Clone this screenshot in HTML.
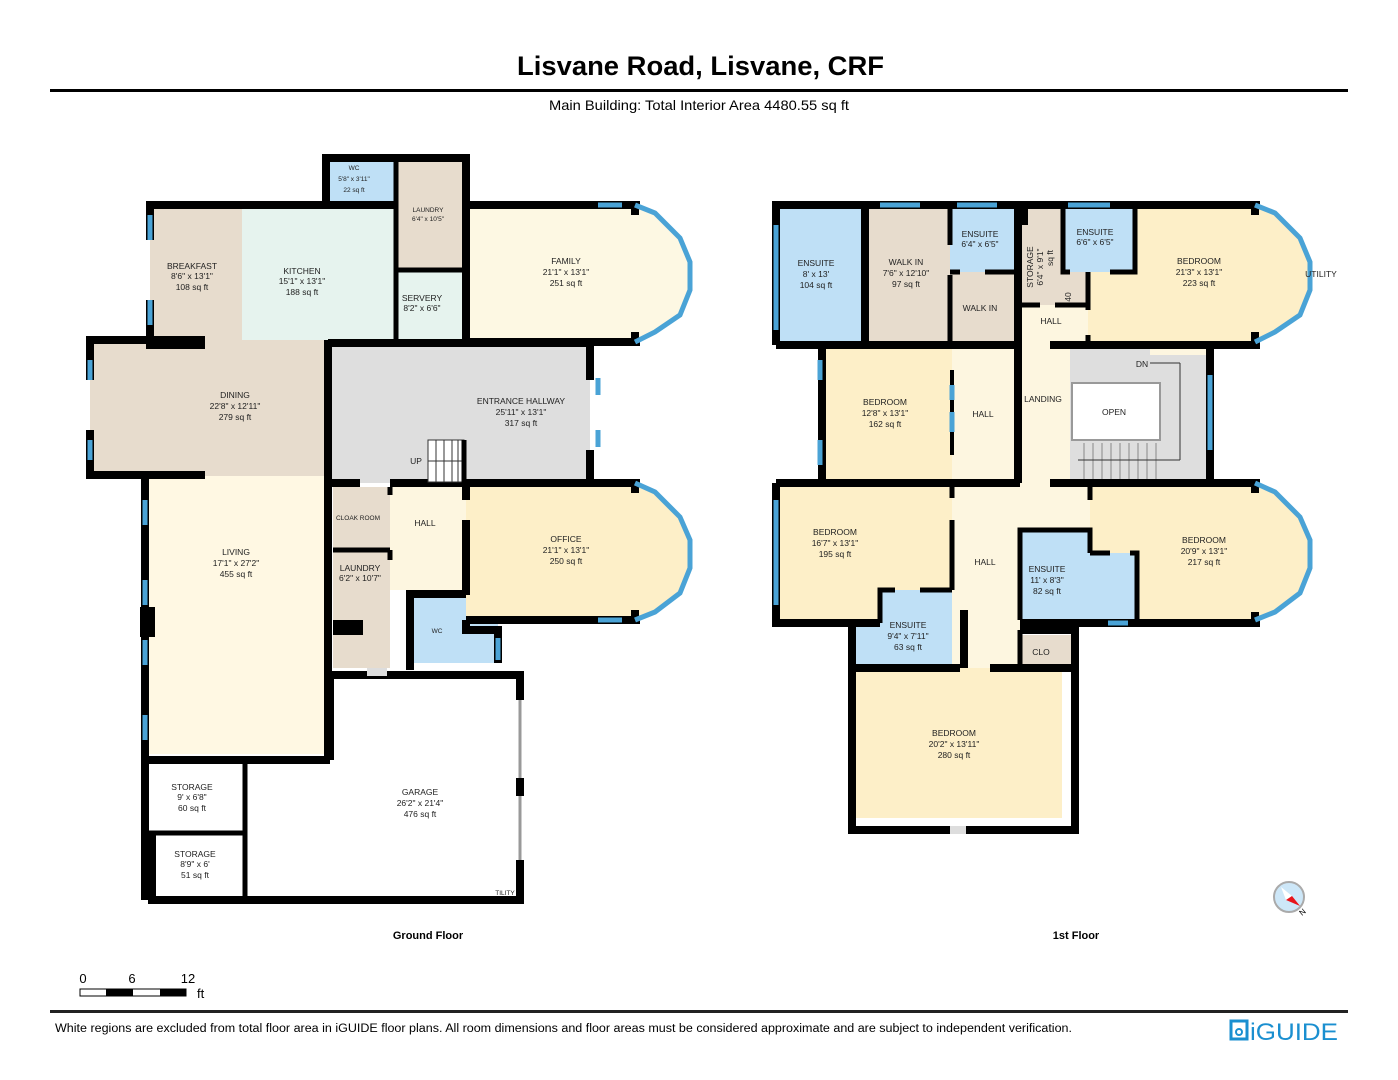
<!DOCTYPE html>
<html><head><meta charset="utf-8"><style>
body{margin:0;background:#fff;width:1398px;height:1080px;overflow:hidden;font-family:"Liberation Sans",sans-serif}
svg{display:block}
.t{font-family:"Liberation Sans",sans-serif;font-size:8.5px;fill:#222;text-anchor:middle}
.s{font-size:6.5px}
.w{fill:none;stroke:#000;stroke-width:8;stroke-linejoin:miter}
.wt{fill:none;stroke:#000;stroke-width:5}
.g{stroke:#4aa3d6;stroke-width:5;fill:none}
</style></head><body>
<svg width="1398" height="1080" viewBox="0 0 1398 1080" xmlns="http://www.w3.org/2000/svg">
<text x="517" y="75" font-size="27" font-weight="bold" font-family="Liberation Sans" textLength="367" lengthAdjust="spacingAndGlyphs">Lisvane Road, Lisvane, CRF</text>
<rect x="50" y="89" width="1298" height="3" fill="#000"/>
<text x="549" y="110" font-size="14" font-family="Liberation Sans" textLength="300" lengthAdjust="spacingAndGlyphs">Main Building: Total Interior Area 4480.55 sq ft</text>

<!-- ===== GROUND FLOOR fills ===== -->
<rect x="326" y="158" width="70" height="47" fill="#bfe0f6"/>
<rect x="396" y="158" width="70" height="112" fill="#e7dccd"/>
<rect x="150" y="205" width="92" height="140" fill="#e7dccd"/>
<rect x="242" y="205" width="154" height="135" fill="#e6f3ee"/>
<rect x="396" y="270" width="70" height="70" fill="#e6f3ee"/>
<polygon points="466,205 635,205 655,213 680,238 690,262 690,290 680,315 655,332 635,342 466,342" fill="#fdf8e3"/>
<rect x="90" y="340" width="238" height="136" fill="#e7dccd"/>
<rect x="328" y="343" width="262" height="140" fill="#dedede"/>
<rect x="145" y="476" width="181" height="278" fill="#fff8e3"/>
<rect x="333" y="487" width="57" height="63" fill="#e7dccd"/>
<rect x="390" y="487" width="76" height="103" fill="#fdf6e0"/>
<rect x="333" y="550" width="57" height="118" fill="#e7dccd"/>
<rect x="410" y="595" width="88" height="68" fill="#bfe0f6"/>
<polygon points="466,483 635,483 655,492 680,517 690,540 690,568 680,593 655,612 635,620 466,620" fill="#fdefc8"/>

<!-- ground walls -->
<polyline points="326,205 326,158 466,158 466,205" class="w"/>
<line x1="396" y1="158" x2="396" y2="340" class="wt"/>
<line x1="396" y1="270" x2="466" y2="270" class="wt"/>
<polyline points="150,240 150,205 396,205" class="w"/>
<polyline points="150,300 150,345 205,345" class="w"/>
<line x1="466" y1="205" x2="466" y2="345" class="w"/>
<polyline points="466,205 640,205" class="w"/>
<polyline points="466,342 640,342" class="w"/>
<line x1="635" y1="201" x2="635" y2="215" class="w"/><line x1="635" y1="332" x2="635" y2="346" class="w"/>
<polyline points="635,205 655,213 680,238 690,262 690,290 680,315 655,332 635,342" class="g"/>
<line x1="598" y1="205" x2="622" y2="205" class="g"/>
<polyline points="90,380 90,340 205,340" class="w"/>
<polyline points="90,430 90,475 205,475" class="w"/>
<line x1="90" y1="360" x2="90" y2="380" class="g"/><line x1="90" y1="440" x2="90" y2="460" class="g"/>
<line x1="150" y1="215" x2="150" y2="240" class="g"/><line x1="150" y1="300" x2="150" y2="325" class="g"/>
<line x1="328" y1="340" x2="328" y2="760" class="w"/>
<line x1="328" y1="343" x2="590" y2="343" class="w"/>
<polyline points="590,343 590,380" class="w"/><polyline points="590,450 590,483" class="w"/>
<line x1="598" y1="378" x2="598" y2="395" class="g"/><line x1="598" y1="430" x2="598" y2="447" class="g"/>
<line x1="390" y1="483" x2="640" y2="483" class="w"/>
<line x1="328" y1="483" x2="360" y2="483" class="w"/>
<polyline points="466,620 640,620" class="w"/>
<line x1="635" y1="479" x2="635" y2="493" class="w"/><line x1="635" y1="610" x2="635" y2="624" class="w"/>
<polyline points="635,483 655,492 680,517 690,540 690,568 680,593 655,612 635,620" class="g"/>
<line x1="598" y1="620" x2="622" y2="620" class="g"/>
<line x1="466" y1="483" x2="466" y2="500" class="w"/><line x1="466" y1="520" x2="466" y2="595" class="w"/>
<line x1="333" y1="550" x2="390" y2="550" class="wt"/>
<line x1="390" y1="487" x2="390" y2="495" class="wt"/>
<line x1="390" y1="550" x2="390" y2="560" class="wt"/>
<polyline points="410,590 410,670" class="w"/>
<polyline points="410,594 466,594" class="w"/>
<polyline points="466,620 466,630 498,630 498,663" class="w"/>
<line x1="498" y1="638" x2="498" y2="660" class="g"/>
<rect x="333" y="620" width="30" height="15" fill="#000"/>
<line x1="145" y1="476" x2="145" y2="900" class="w"/>
<line x1="145" y1="500" x2="145" y2="525" class="g"/><line x1="145" y1="580" x2="145" y2="605" class="g"/><line x1="145" y1="640" x2="145" y2="665" class="g"/><line x1="145" y1="715" x2="145" y2="740" class="g"/>
<rect x="140" y="607" width="15" height="30" fill="#000"/>
<line x1="145" y1="760" x2="330" y2="760" class="w"/>
<polyline points="330,760 330,675 520,675 520,700" class="w"/>
<polyline points="520,860 520,900 245,900" class="w"/>
<line x1="520" y1="700" x2="520" y2="860" stroke="#999" stroke-width="3"/>
<rect x="516" y="778" width="8" height="18" fill="#000"/>
<line x1="245" y1="760" x2="245" y2="900" class="wt"/>
<line x1="145" y1="833" x2="245" y2="833" class="wt"/>
<polyline points="152,835 152,900 245,900" class="w"/>
<rect x="367" y="668" width="20" height="8" fill="#ddd"/>

<!-- stairs -->
<g stroke="#333" stroke-width="1" fill="none"><rect x="428" y="440" width="36" height="42" fill="#fff"/>
<line x1="436" y1="440" x2="436" y2="482"/><line x1="444" y1="440" x2="444" y2="482"/><line x1="452" y1="440" x2="452" y2="482"/><line x1="458" y1="440" x2="458" y2="482"/><line x1="428" y1="461" x2="462" y2="461"/></g>
<line x1="464" y1="440" x2="464" y2="483" class="wt"/>
<text x="416" y="464" class="t">UP</text>

<!-- ground labels -->
<text x="354" y="170" class="t s">WC</text><text x="354" y="181" class="t s">5'8" x 3'11"</text><text x="354" y="192" class="t s">22 sq ft</text>
<text x="428" y="212" class="t s">LAUNDRY</text><text x="428" y="221" class="t s">6'4" x 10'5"</text>
<text x="192" y="269" class="t">BREAKFAST</text><text x="192" y="279" class="t">8'6" x 13'1"</text><text x="192" y="290" class="t">108 sq ft</text>
<text x="302" y="274" class="t">KITCHEN</text><text x="302" y="284" class="t">15'1" x 13'1"</text><text x="302" y="295" class="t">188 sq ft</text>
<text x="422" y="301" class="t">SERVERY</text><text x="422" y="311" class="t">8'2" x 6'6"</text>
<text x="566" y="264" class="t">FAMILY</text><text x="566" y="275" class="t">21'1" x 13'1"</text><text x="566" y="286" class="t">251 sq ft</text>
<text x="235" y="398" class="t">DINING</text><text x="235" y="409" class="t">22'8" x 12'11"</text><text x="235" y="420" class="t">279 sq ft</text>
<text x="521" y="404" class="t">ENTRANCE HALLWAY</text><text x="521" y="415" class="t">25'11" x 13'1"</text><text x="521" y="426" class="t">317 sq ft</text>
<text x="236" y="555" class="t">LIVING</text><text x="236" y="566" class="t">17'1" x 27'2"</text><text x="236" y="577" class="t">455 sq ft</text>
<text x="358" y="520" class="t s">CLOAK ROOM</text>
<text x="425" y="526" class="t">HALL</text>
<text x="360" y="571" class="t">LAUNDRY</text><text x="360" y="581" class="t">6'2" x 10'7"</text>
<text x="437" y="633" class="t s">WC</text>
<text x="566" y="542" class="t">OFFICE</text><text x="566" y="553" class="t">21'1" x 13'1"</text><text x="566" y="564" class="t">250 sq ft</text>
<text x="420" y="795" class="t">GARAGE</text><text x="420" y="806" class="t">26'2" x 21'4"</text><text x="420" y="817" class="t">476 sq ft</text>
<text x="192" y="790" class="t">STORAGE</text><text x="192" y="800" class="t">9' x 6'8"</text><text x="192" y="811" class="t">60 sq ft</text>
<text x="195" y="857" class="t">STORAGE</text><text x="195" y="867" class="t">8'9" x 6'</text><text x="195" y="878" class="t">51 sq ft</text>
<text x="505" y="895" class="t s">TILITY</text>

<!-- ===== FIRST FLOOR fills ===== -->
<rect x="776" y="205" width="89" height="140" fill="#bfe0f6"/>
<rect x="865" y="205" width="85" height="140" fill="#e7dccd"/>
<rect x="950" y="205" width="68" height="67" fill="#bfe0f6"/>
<rect x="950" y="272" width="68" height="73" fill="#e7dccd"/>
<polygon points="1020,205 1063,205 1063,272 1088,272 1088,305 1020,305" fill="#e7dccd"/>
<rect x="1020" y="305" width="68" height="40" fill="#fdf6e0"/>
<rect x="1063" y="205" width="72" height="67" fill="#bfe0f6"/>
<polygon points="1088,272 1135,272 1135,205 1255,205 1275,213 1300,238 1310,262 1310,290 1300,315 1275,332 1255,342 1088,342" fill="#fdefc8"/>
<rect x="822" y="345" width="130" height="138" fill="#fdefc8"/>
<rect x="952" y="345" width="68" height="138" fill="#fdf6e0"/>
<rect x="1020" y="345" width="190" height="138" fill="#fdf6e0"/>
<polygon points="1070,345 1150,345 1150,355 1210,355 1210,483 1070,483" fill="#dedede"/>
<rect x="1072" y="383" width="88" height="57" fill="#fff" stroke="#999" stroke-width="2"/>
<g stroke="#888" stroke-width="1"><line x1="1084" y1="443" x2="1084" y2="480"/><line x1="1093" y1="443" x2="1093" y2="480"/><line x1="1102" y1="443" x2="1102" y2="480"/><line x1="1111" y1="443" x2="1111" y2="480"/><line x1="1120" y1="443" x2="1120" y2="480"/><line x1="1129" y1="443" x2="1129" y2="480"/><line x1="1138" y1="443" x2="1138" y2="480"/><line x1="1147" y1="443" x2="1147" y2="480"/><line x1="1156" y1="443" x2="1156" y2="480"/>
<line x1="1150" y1="363" x2="1180" y2="363" stroke="#333"/><line x1="1180" y1="363" x2="1180" y2="460" stroke="#333"/><line x1="1180" y1="460" x2="1078" y2="460" stroke="#333"/></g>
<rect x="776" y="483" width="176" height="137" fill="#fdefc8"/>
<rect x="952" y="483" width="68" height="187" fill="#fdf6e0"/>
<rect x="1020" y="483" width="70" height="47" fill="#fdf6e0"/>
<polygon points="1020,530 1090,530 1090,553 1137,553 1137,620 1020,620" fill="#bfe0f6"/>
<polygon points="1090,483 1255,483 1275,492 1300,517 1310,540 1310,568 1300,593 1275,612 1255,620 1137,620 1137,553 1090,553" fill="#fdefc8"/>
<polygon points="852,620 880,620 880,590 952,590 952,668 852,668" fill="#bfe0f6"/>
<rect x="1020" y="635" width="55" height="35" fill="#e7dccd"/>
<rect x="852" y="668" width="210" height="150" fill="#fdefc8"/>

<!-- first floor walls -->
<polyline points="776,345 776,205 1260,205" class="w"/>
<line x1="776" y1="225" x2="776" y2="330" class="g"/>
<line x1="880" y1="205" x2="920" y2="205" class="g"/><line x1="957" y1="205" x2="997" y2="205" class="g"/><line x1="1068" y1="205" x2="1110" y2="205" class="g"/>
<line x1="776" y1="345" x2="1020" y2="345" class="w"/>
<line x1="1050" y1="345" x2="1260" y2="345" class="w"/>
<line x1="865" y1="205" x2="865" y2="345" class="w"/>
<line x1="950" y1="205" x2="950" y2="245" class="wt"/><line x1="950" y1="275" x2="950" y2="345" class="wt"/>
<line x1="950" y1="272" x2="960" y2="272" class="wt"/><line x1="985" y1="272" x2="1018" y2="272" class="wt"/>
<line x1="1018" y1="205" x2="1018" y2="483" class="w"/>
<rect x="1016" y="203" width="12" height="22" fill="#000"/>
<polyline points="1063,205 1063,272 1070,272" class="wt"/>
<polyline points="1110,272 1135,272 1135,205" class="wt"/>
<line x1="1020" y1="305" x2="1040" y2="305" class="wt"/><line x1="1055" y1="305" x2="1088" y2="305" class="wt"/>
<line x1="1088" y1="272" x2="1088" y2="310" class="wt"/><line x1="1088" y1="335" x2="1088" y2="345" class="wt"/>
<line x1="1255" y1="201" x2="1255" y2="215" class="w"/><line x1="1255" y1="332" x2="1255" y2="349" class="w"/>
<polyline points="1255,205 1275,213 1300,238 1310,262 1310,290 1300,315 1275,332 1255,342" class="g"/>
<polyline points="822,345 822,483" class="w"/>
<line x1="820" y1="360" x2="820" y2="380" class="g"/><line x1="820" y1="440" x2="820" y2="465" class="g"/>
<line x1="952" y1="370" x2="952" y2="455" stroke="#000" stroke-width="4"/>
<line x1="952" y1="385" x2="952" y2="400" class="g"/><line x1="952" y1="412" x2="952" y2="432" class="g"/>
<line x1="1210" y1="345" x2="1210" y2="483" class="w"/>
<line x1="1210" y1="375" x2="1210" y2="450" class="g"/>
<line x1="776" y1="483" x2="1020" y2="483" class="w"/>
<line x1="1050" y1="483" x2="1260" y2="483" class="w"/>
<polyline points="776,483 776,623 880,623" class="w"/>
<line x1="776" y1="500" x2="776" y2="605" class="g"/>
<line x1="952" y1="483" x2="952" y2="498" class="wt"/><line x1="952" y1="520" x2="952" y2="590" class="wt"/>
<polyline points="880,623 880,590 895,590" class="wt"/><polyline points="920,590 952,590" class="wt"/>
<polyline points="852,623 852,830 1075,830 1075,630 1020,630" class="w"/>
<line x1="964" y1="610" x2="964" y2="668" class="w"/>
<line x1="852" y1="668" x2="960" y2="668" class="w"/><line x1="990" y1="668" x2="1075" y2="668" class="w"/>
<polyline points="1020,620 1020,530 1090,530 1090,553" class="wt"/>
<line x1="1090" y1="483" x2="1090" y2="500" class="wt"/>
<polyline points="1090,553 1110,553" class="wt"/><polyline points="1130,553 1137,553 1137,625" class="wt"/>
<polyline points="1020,623 1260,623" class="w"/>
<line x1="1108" y1="623" x2="1128" y2="623" class="g"/>
<line x1="1255" y1="479" x2="1255" y2="493" class="w"/><line x1="1255" y1="612" x2="1255" y2="627" class="w"/>
<polyline points="1255,483 1275,492 1300,517 1310,540 1310,568 1300,593 1275,612 1255,620" class="g"/>
<line x1="1020" y1="630" x2="1020" y2="670" class="wt"/>
<rect x="950" y="826" width="16" height="8" fill="#ddd"/>

<!-- first floor labels -->
<text x="816" y="266" class="t">ENSUITE</text><text x="816" y="277" class="t">8' x 13'</text><text x="816" y="288" class="t">104 sq ft</text>
<text x="906" y="265" class="t">WALK IN</text><text x="906" y="276" class="t">7'6" x 12'10"</text><text x="906" y="287" class="t">97 sq ft</text>
<text x="980" y="237" class="t">ENSUITE</text><text x="980" y="247" class="t">6'4" x 6'5"</text>
<text x="980" y="311" class="t">WALK IN</text>
<text x="1033" y="267" class="t" transform="rotate(-90 1033 267)">STORAGE</text>
<text x="1043" y="267" class="t" transform="rotate(-90 1043 267)">6'4" x 9'1"</text>
<text x="1053" y="258" class="t" transform="rotate(-90 1053 258)">sq ft</text>
<text x="1071" y="297" class="t" transform="rotate(-90 1071 297)">40</text>
<text x="1095" y="235" class="t">ENSUITE</text><text x="1095" y="245" class="t">6'6" x 6'5"</text>
<text x="1051" y="324" class="t">HALL</text>
<text x="1199" y="264" class="t">BEDROOM</text><text x="1199" y="275" class="t">21'3" x 13'1"</text><text x="1199" y="286" class="t">223 sq ft</text>
<text x="1321" y="277" class="t">UTILITY</text>
<text x="885" y="405" class="t">BEDROOM</text><text x="885" y="416" class="t">12'8" x 13'1"</text><text x="885" y="427" class="t">162 sq ft</text>
<text x="983" y="417" class="t">HALL</text>
<text x="1043" y="402" class="t">LANDING</text>
<text x="1114" y="415" class="t">OPEN</text>
<text x="1142" y="367" class="t">DN</text>
<text x="835" y="535" class="t">BEDROOM</text><text x="835" y="546" class="t">16'7" x 13'1"</text><text x="835" y="557" class="t">195 sq ft</text>
<text x="985" y="565" class="t">HALL</text>
<text x="1047" y="572" class="t">ENSUITE</text><text x="1047" y="583" class="t">11' x 8'3"</text><text x="1047" y="594" class="t">82 sq ft</text>
<text x="1204" y="543" class="t">BEDROOM</text><text x="1204" y="554" class="t">20'9" x 13'1"</text><text x="1204" y="565" class="t">217 sq ft</text>
<text x="908" y="628" class="t">ENSUITE</text><text x="908" y="639" class="t">9'4" x 7'11"</text><text x="908" y="650" class="t">63 sq ft</text>
<text x="1041" y="655" class="t">CLO</text>
<text x="954" y="736" class="t">BEDROOM</text><text x="954" y="747" class="t">20'2" x 13'11"</text><text x="954" y="758" class="t">280 sq ft</text>

<!-- compass -->
<circle cx="1289" cy="897" r="15" fill="#cde7f8" stroke="#aaa" stroke-width="2"/>
<polygon points="1281,887 1292,896 1286,900" fill="#fff"/>
<polygon points="1292,896 1300,906 1286,900" fill="#e8141b"/>
<text x="1302" y="916" font-size="8" font-family="Liberation Sans" transform="rotate(-40 1302 916)">N</text>

<text x="428" y="939" font-size="11" font-weight="bold" text-anchor="middle" font-family="Liberation Sans">Ground Floor</text>
<text x="1076" y="939" font-size="11" font-weight="bold" text-anchor="middle" font-family="Liberation Sans">1st Floor</text>

<!-- scale -->
<text x="83" y="983" font-size="13" text-anchor="middle" font-family="Liberation Sans">0</text>
<text x="132" y="983" font-size="13" text-anchor="middle" font-family="Liberation Sans">6</text>
<text x="188" y="983" font-size="13" text-anchor="middle" font-family="Liberation Sans">12</text>
<rect x="80" y="989" width="106" height="7" fill="#fff" stroke="#000" stroke-width="1"/>
<rect x="106" y="989" width="27" height="7" fill="#000"/><rect x="160" y="989" width="26" height="7" fill="#000"/>
<text x="197" y="998" font-size="13" font-family="Liberation Sans">ft</text>

<rect x="50" y="1010" width="1298" height="3" fill="#222"/>
<text x="55" y="1032" font-size="11.5" font-family="Liberation Sans" textLength="1017" lengthAdjust="spacingAndGlyphs">White regions are excluded from total floor area in iGUIDE floor plans. All room dimensions and floor areas must be considered approximate and are subject to independent verification.</text>
<rect x="1231" y="1021" width="16" height="18" fill="none" stroke="#1a8fd0" stroke-width="3"/>
<circle cx="1239" cy="1032" r="3" fill="none" stroke="#1a8fd0" stroke-width="2"/>
<text x="1250" y="1040" font-size="24" fill="#1a8fd0" font-family="Liberation Sans" textLength="88" lengthAdjust="spacingAndGlyphs">iGUIDE</text>
</svg>
</body></html>
